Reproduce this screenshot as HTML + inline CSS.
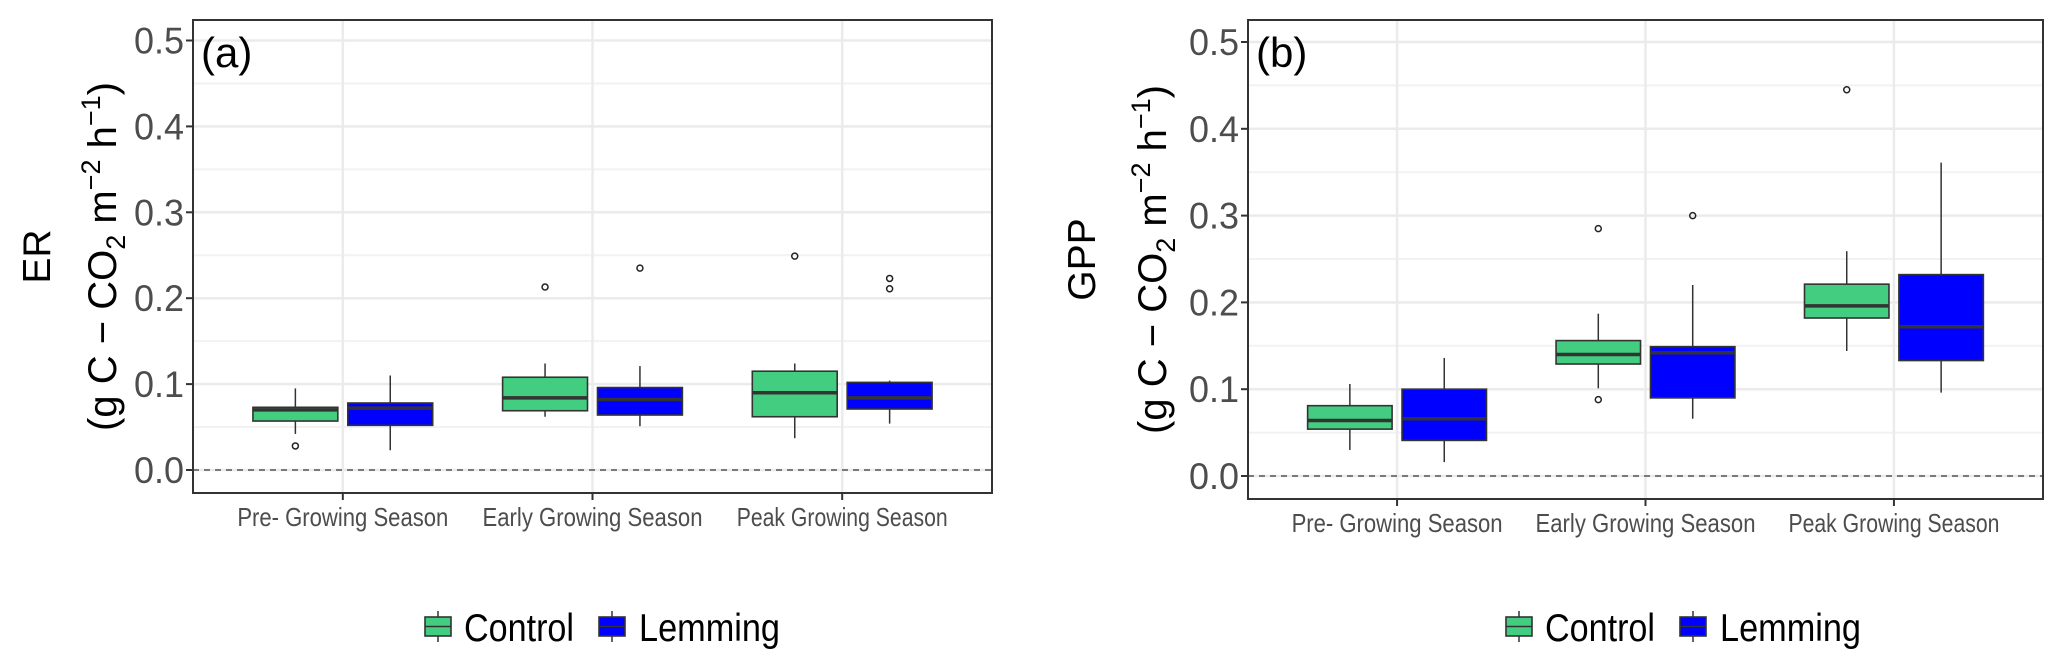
<!DOCTYPE html>
<html><head><meta charset="utf-8">
<style>
html,body{margin:0;padding:0;background:#fff;}
svg{display:block;font-family:"Liberation Sans",sans-serif;}
</style></head>
<body>
<svg id="chart" width="2067" height="669" viewBox="0 0 2067 669" xmlns="http://www.w3.org/2000/svg"></svg>
<script>
// ---- data ----
const categories = ["Pre- Growing Season","Early Growing Season","Peak Growing Season"];
const groups = ["Control","Lemming"];
const yTicks = [0.0,0.1,0.2,0.3,0.4,0.5];
const yTickLabels = ["0.0","0.1","0.2","0.3","0.4","0.5"];
// ER: [lowerWhisker, q1, median, q3, upperWhisker] per category
const erControl = [[0.042,0.057,0.070,0.073,0.095],[0.062,0.069,0.084,0.108,0.124],[0.037,0.062,0.090,0.115,0.124]];
const erLemming = [[0.023,0.052,0.072,0.078,0.110],[0.051,0.064,0.082,0.096,0.121],[0.054,0.071,0.084,0.102,0.104]];
const erControlOut = [[0.028],[0.213],[0.249]];
const erLemmingOut = [[],[0.235],[0.223,0.211]];
// GPP
const gppControl = [[0.030,0.054,0.064,0.081,0.106],[0.101,0.129,0.140,0.156,0.187],[0.144,0.182,0.196,0.221,0.259]];
const gppLemming = [[0.016,0.041,0.066,0.100,0.136],[0.066,0.090,0.142,0.149,0.220],[0.096,0.133,0.172,0.232,0.361]];
const gppControlOut = [[],[0.088,0.285],[0.445]];
const gppLemmingOut = [[],[0.300],[]];

const NS="http://www.w3.org/2000/svg";
const svg=document.getElementById('chart');
function mk(tag,attrs,parent){const e=document.createElementNS(NS,tag);for(const k in attrs)e.setAttribute(k,attrs[k]);(parent||svg).appendChild(e);return e;}
const colors={Control:"#43CD80",Lemming:"#0000FF"};

function panel(cfg){
  const g=mk('g',{});
  
  
  const L=cfg.left,R=cfg.right,T=cfg.top,B=cfg.bottom;
  const y=v=>cfg.y0-v*cfg.yScale;
  const unit=(R-L)/3.2;
  const x=i=>L+(0.6+i)*unit;
  for(let i=0;i<yTicks.length;i++){
    const mv=yTicks[i]+0.05;
    if(y(mv)>T){const m=mk('line',{x1:L,x2:R,y1:y(mv),y2:y(mv),stroke:"#f2f2f2","stroke-width":2},g);
      }
  }
  for(let i=0;i<yTicks.length;i++){
    const l=mk('line',{x1:L,x2:R,y1:y(yTicks[i]),y2:y(yTicks[i]),stroke:"#ebebeb","stroke-width":2.5},g);
    
  }
  for(let i=0;i<categories.length;i++){
    const l=mk('line',{x1:x(i),x2:x(i),y1:T,y2:B,stroke:"#ebebeb","stroke-width":2.5},g);
    
  }
  const z=mk('line',{x1:L,x2:R,y1:y(0),y2:y(0),stroke:"#555","stroke-width":1.6,"stroke-dasharray":"6,5"},g);
  
  const bw=unit*0.34, off=unit*0.19;
  [[cfg.ctrl,cfg.ctrlOut,"Control",-1],[cfg.lem,cfg.lemOut,"Lemming",1]].forEach(([data,outs,grp,s])=>{
    data.forEach((d,i)=>{
      const cx=x(i)+s*off;
      const bg=mk('g',{},g);
      
      
      mk('line',{x1:cx,x2:cx,y1:y(d[4]),y2:y(d[0]),stroke:"#333","stroke-width":1.5},bg);
      mk('rect',{x:cx-bw/2,y:y(d[3]),width:bw,height:y(d[1])-y(d[3]),fill:colors[grp],stroke:"#333","stroke-width":1.6},bg);
      mk('line',{x1:cx-bw/2,x2:cx+bw/2,y1:y(d[2]),y2:y(d[2]),stroke:"#333","stroke-width":3.5},bg);
      outs[i].forEach(v=>{
        const c=mk('circle',{cx:cx,cy:y(v),r:3,fill:"none",stroke:"#222","stroke-width":1.5},bg);
        
      });
    });
  });
  const br=mk('rect',{x:L,y:T,width:R-L,height:B-T,fill:"none",stroke:"#333","stroke-width":2},g);
  
  for(let i=0;i<yTicks.length;i++){
    mk('line',{x1:L-7,x2:L,y1:y(yTicks[i]),y2:y(yTicks[i]),stroke:"#333","stroke-width":2},g);
    const t=mk('text',{x:L-9,y:y(yTicks[i])+13,"text-anchor":"end","font-size":37,fill:"#4d4d4d",textLength:50,lengthAdjust:"spacingAndGlyphs"},g);
    t.textContent=yTickLabels[i];
    
  }
  for(let i=0;i<categories.length;i++){
    mk('line',{x1:x(i),x2:x(i),y1:B,y2:B+7,stroke:"#333","stroke-width":2},g);
    const t=mk('text',{x:x(i),y:B+33,"text-anchor":"middle","font-size":26,fill:"#4d4d4d",textLength:categories[i].length>19?220:211,lengthAdjust:"spacingAndGlyphs"},g);
    t.textContent=categories[i];
    
  }
  const pl=mk('text',{x:L+8,y:T+47,"font-size":42,fill:"#000"},g);
  pl.textContent=cfg.tag;
  
  const cy=(T+B)/2;
  const t1=mk('text',{transform:`translate(${cfg.titleX1},${cy}) rotate(-90)`,"text-anchor":"middle","font-size":39,fill:"#000"},g);
  t1.textContent=cfg.title;
  
  const t2=mk('text',{transform:`translate(${cfg.titleX2},${cy}) rotate(-90)`,"text-anchor":"middle","font-size":40,fill:"#000"},g);
  t2.innerHTML='(g C \u2212 CO<tspan font-size="27" dy="9">2</tspan><tspan dy="-9"> m</tspan><tspan font-size="27" dy="-16">\u22122</tspan><tspan dy="16"> h</tspan><tspan font-size="27" dy="-16">\u22121</tspan><tspan dy="16">)</tspan>';
  
  const lg=mk('g',{},g);
  
  cfg.legend.forEach((le,k)=>{
    const eg=mk('g',{},lg);
    
    
    const kx=le.kx;
    mk('line',{x1:kx+13,x2:kx+13,y1:611,y2:642,stroke:"#333","stroke-width":1.5},eg);
    mk('rect',{x:kx,y:617,width:26,height:19,fill:colors[groups[k]],stroke:"#333","stroke-width":1.6},eg);
    mk('line',{x1:kx,x2:kx+26,y1:626.5,y2:626.5,stroke:"#333","stroke-width":1.6},eg);
    const tt=mk('text',{x:le.tx,y:641,"font-size":39,fill:"#000",textLength:le.tw,lengthAdjust:"spacingAndGlyphs"},eg);
    tt.textContent=groups[k];
  });
}

panel({name:"panel-er",left:193,right:992,top:20,bottom:493,y0:470,yScale:859,
  ctrl:erControl,lem:erLemming,ctrlOut:erControlOut,lemOut:erLemmingOut,tag:"(a)",title:"ER",titleX1:50,titleX2:116,
  legend:[{kx:425,tx:464,tw:110},{kx:599,tx:639,tw:141}]});
panel({name:"panel-gpp",left:1248,right:2043,top:20,bottom:499,y0:476,yScale:868,
  ctrl:gppControl,lem:gppLemming,ctrlOut:gppControlOut,lemOut:gppLemmingOut,tag:"(b)",title:"GPP",titleX1:1095,titleX2:1166,
  legend:[{kx:1506,tx:1545,tw:110},{kx:1680,tx:1720,tw:141}]});
</script>
</body></html>
